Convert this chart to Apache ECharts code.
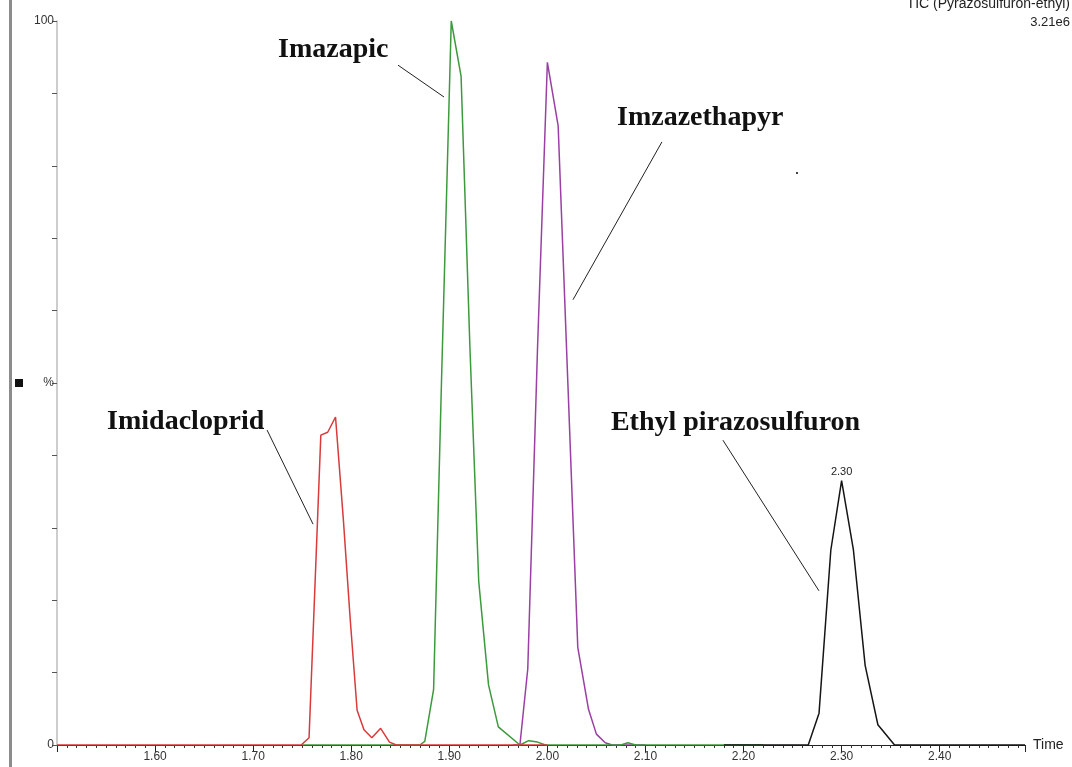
<!DOCTYPE html>
<html>
<head>
<meta charset="utf-8">
<script src="https://cdn.jsdelivr.net/npm/echarts@6/dist/echarts.min.js"></script>
<style>
  html, body { margin: 0; padding: 0; background: #fff; }
  #chart { width: 1072px; height: 767px; }
</style>
</head>
<body>
<div id="chart"></div>
<script>
// Retention time (min) and relative intensity (%) for each MRM trace
const imidaclopridTime = [1.50, 1.749, 1.757, 1.769, 1.776, 1.784, 1.792, 1.799, 1.806, 1.813, 1.821, 1.830, 1.839, 1.846, 2.00];
const imidaclopridPct  = [0, 0, 1.0, 42.8, 43.2, 45.3, 31.1, 17.3, 4.8, 2.1, 1.0, 2.3, 0.4, 0, 0];

const imazapicTime = [1.75, 1.870, 1.875, 1.884, 1.892, 1.902, 1.912, 1.921, 1.930, 1.940, 1.950, 1.972, 1.981, 1.990, 1.998, 2.075, 2.082, 2.090, 2.22];
const imazapicPct  = [0, 0, 0.5, 7.7, 50.0, 100, 92.4, 55.0, 22.6, 8.3, 2.5, 0, 0.6, 0.4, 0, 0, 0.3, 0, 0];

const imazethapyrTime = [1.965, 1.972, 1.980, 1.990, 2.000, 2.011, 2.021, 2.031, 2.042, 2.050, 2.059, 2.066, 2.10];
const imazethapyrPct  = [0, 0, 10.5, 55.0, 94.3, 85.5, 49.6, 13.5, 4.9, 1.5, 0.3, 0, 0];

const pyrazosulfuronTime = [2.18, 2.266, 2.277, 2.289, 2.300, 2.312, 2.324, 2.337, 2.354, 2.487];
const pyrazosulfuronPct  = [0, 0, 4.4, 26.9, 36.5, 27.0, 11.0, 2.8, 0, 0];

// Axis tick labels
const xTickLabels = ['1.60', '1.70', '1.80', '1.90', '2.00', '2.10', '2.20', '2.30', '2.40'];
const yTickLabels = { 0: '0', 50: '%', 100: '100' };

// Compound call-outs: text anchor and leader line, in (time, %) space
const callouts = [
  { text: 'Imazapic',             at: [1.7254, 96.0], from: [1.8477, 93.9], to: [1.8946, 89.5] },
  { text: 'Imzazethapyr',         at: [2.0710, 86.7], from: [2.1168, 83.3], to: [2.0261, 61.5] },
  { text: 'Imidacloprid',         at: [1.5511, 44.6], from: [1.7142, 43.5], to: [1.7611, 30.5] },
  { text: 'Ethyl pirazosulfuron', at: [2.0648, 44.5], from: [2.1790, 42.1], to: [2.2769, 21.3] }
];

function pairs(t, v) { return t.map((x, i) => [x, v[i]]); }

// Apex point of a trace (retention time, intensity)
function apex(t, v) {
  let k = 0;
  v.forEach((y, i) => { if (y > v[k]) k = i; });
  return [t[k], v[k]];
}

const chart = echarts.init(document.getElementById('chart'), null, { renderer: 'canvas' });

const lineSeries = (name, data, color, z) => ({
  name, type: 'line', data, z,
  showSymbol: false, symbol: 'none', smooth: false,
  lineStyle: { color, width: 1.5 },
  emphasis: { disabled: true }
});

const pyrazoSeries = lineSeries('Ethyl pirazosulfuron', pairs(pyrazosulfuronTime, pyrazosulfuronPct), '#151515', 5);
pyrazoSeries.markPoint = {
  symbol: 'circle', symbolSize: 1, silent: true,
  itemStyle: { color: 'rgba(0,0,0,0)' },
  label: {
    show: true, position: 'top', distance: 3,
    fontFamily: 'Liberation Sans', fontSize: 11, color: '#222',
    formatter: p => p.data.coord[0].toFixed(2)
  },
  data: [{ coord: apex(pyrazosulfuronTime, pyrazosulfuronPct) }]
};

chart.setOption({
  animation: false,
  backgroundColor: '#ffffff',
  grid: { left: 57, right: 47, top: 21, bottom: 22, containLabel: false },
  xAxis: {
    type: 'value', min: 1.5, max: 2.487, interval: 0.1,
    name: 'Time', nameLocation: 'end', nameGap: 8,
    nameTextStyle: { fontFamily: 'Liberation Sans', fontSize: 14, color: '#222', verticalAlign: 'middle', padding: [0, 0, 6, 0] },
    axisLine: { lineStyle: { color: '#222', width: 1 } },
    axisTick: { show: true, length: 7, lineStyle: { color: '#222' } },
    minorTick: { show: true, splitNumber: 10, length: 3, lineStyle: { color: '#333' } },
    splitLine: { show: false },
    axisLabel: {
      fontFamily: 'Liberation Sans', fontSize: 12, color: '#333', margin: 6,
      showMinLabel: false, showMaxLabel: false,
      formatter: v => { const s = v.toFixed(2); return xTickLabels.includes(s) ? s : ''; }
    }
  },
  yAxis: {
    type: 'value', min: 0, max: 100, interval: 10,
    axisLine: { show: true, lineStyle: { color: '#bdbdbd', width: 1.5 } },
    axisTick: { show: true, length: 5, lineStyle: { color: '#555' } },
    splitLine: { show: false },
    axisLabel: {
      fontFamily: 'Liberation Sans', fontSize: 12, color: '#333', margin: 3,
      formatter: v => (yTickLabels[v] !== undefined ? yTickLabels[v] : '')
    }
  },
  series: [
    lineSeries('Imzazethapyr', pairs(imazethapyrTime, imazethapyrPct), '#9a3fa3', 2),
    lineSeries('Imazapic', pairs(imazapicTime, imazapicPct), '#3c9a3c', 3),
    lineSeries('Imidacloprid', pairs(imidaclopridTime, imidaclopridPct), '#d93a3a', 4),
    pyrazoSeries
  ]
});

// Overlay: frame bar, channel header, intensity marker and compound call-outs
const px = p => chart.convertToPixel({ gridIndex: 0 }, p);
const graphics = [
  { type: 'rect', shape: { x: 9, y: 0, width: 3, height: 767 }, style: { fill: '#8c8c8c' }, silent: true },
  { type: 'rect', shape: { x: 15, y: 379, width: 8, height: 8 }, style: { fill: '#111' }, silent: true },
  { type: 'text', x: 1070, y: 4, style: { text: 'TIC (Pyrazosulfuron-ethyl)', fontFamily: 'Liberation Sans', fontSize: 14, fill: '#222', align: 'right', verticalAlign: 'middle' }, silent: true },
  { type: 'text', x: 1070, y: 22, style: { text: '3.21e6', fontFamily: 'Liberation Sans', fontSize: 13, fill: '#222', align: 'right', verticalAlign: 'middle' }, silent: true },
  { type: 'rect', shape: { x: 796, y: 172, width: 2, height: 2 }, style: { fill: '#444' }, silent: true }
];
callouts.forEach(c => {
  const a = px(c.at), f = px(c.from), t = px(c.to);
  graphics.push({
    type: 'text', x: a[0], y: a[1], silent: true,
    style: { text: c.text, fontFamily: 'Liberation Serif', fontWeight: 'bold', fontSize: 28, fill: '#111', align: 'left', verticalAlign: 'middle' }
  });
  graphics.push({
    type: 'line', silent: true,
    shape: { x1: f[0], y1: f[1], x2: t[0], y2: t[1] },
    style: { stroke: '#222', lineWidth: 1 }
  });
});
chart.setOption({ graphic: graphics });
</script>
</body>
</html>
